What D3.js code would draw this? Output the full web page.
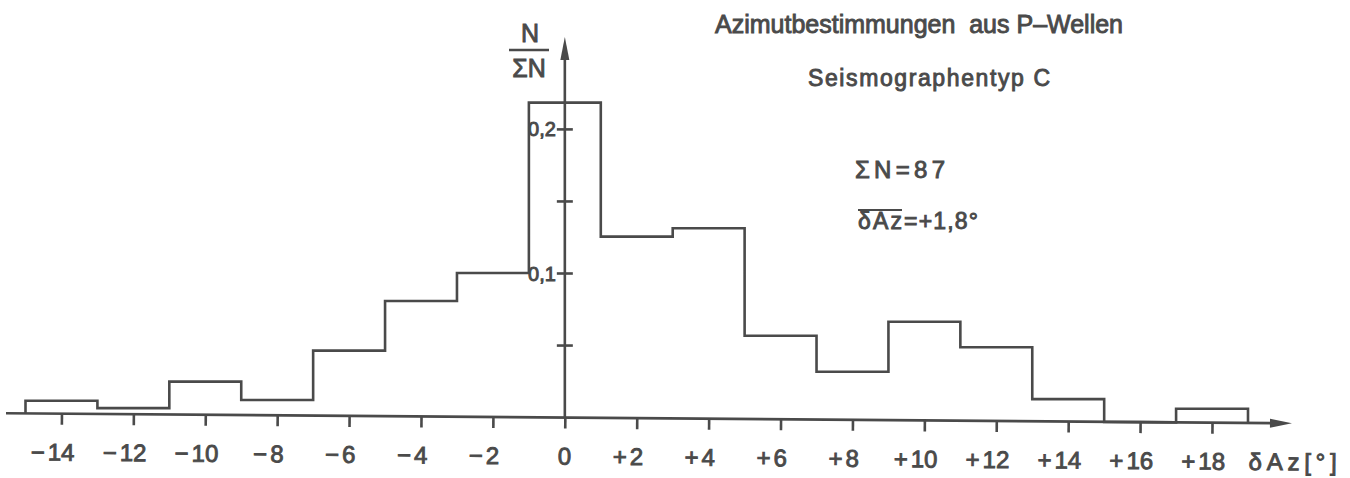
<!DOCTYPE html>
<html>
<head>
<meta charset="utf-8">
<script src="https://cdn.jsdelivr.net/npm/d3@7"></script>
<style>
  html, body { margin: 0; padding: 0; background: #fff; }
  svg { display: block; }
  text { font-family: "Liberation Sans", "DejaVu Sans", sans-serif; fill: #4a4a4a; stroke: #4a4a4a; stroke-width: 0.9px; white-space: pre; }
</style>
</head>
<body>
<svg id="chart" width="1350" height="478"></svg>
<script>
// Azimuth deviations, 2° classes (left edge of each class in degrees)
const binLeft = [-15, -13, -11, -9, -7, -5, -3, -1, 1, 3, 5, 7, 9, 11, 13, 15, 17];
const binWidth = 2;
// Relative frequency N / ΣN per class
const share = [0.0117, 0.0066, 0.0250, 0.0122, 0.0465, 0.0809, 0.1003, 0.2186,
               0.1256, 0.1314, 0.0568, 0.0318, 0.0665, 0.0488, 0.0128, 0, 0.0061];

const xTicks = [-14, -12, -10, -8, -6, -4, -2, 0, 2, 4, 6, 8, 10, 12, 14, 16, 18];
const yTicks = [0.05, 0.1, 0.15, 0.2];
const yTickText = new Map([[0.1, "0,1"], [0.2, "0,2"]]);

const titleText = "Azimutbestimmungen  aus P\u2013Wellen";
const subtitleText = "Seismographentyp C";
const sumText = "\u03a3N=87";
const meanSymbol = "\u03b4Az";
const meanValue = "=+1,8\u00b0";
const xLabel = "\u03b4Az[\u00b0]";

const ink = "#4a4a4a";
const lw = 2.6;

const svg = d3.select("#chart");
svg.append("rect").attr("width", 1350).attr("height", 478).attr("fill", "#fff");

const x = d3.scaleLinear().domain([-15, 19]).range([25.5, 1248]);
const y = d3.scaleLinear().domain([0, 0.2]).range([417.6, 129.4]);

// the abscissa is drawn with a slight downward tilt to the right
const tiltDeg = 0.45;
const tilt = tiltDeg * Math.PI / 180;
const x0 = x(0), y0 = y(0);
const base = xx => y0 + (xx - x0) * Math.tan(tilt);

// ---- x axis (tilted group) ----
const gx = svg.append("g").attr("transform", `rotate(${tiltDeg},${x0},${y0})`);
gx.append("line")
  .attr("x1", 6).attr("x2", 1278).attr("y1", y0).attr("y2", y0)
  .attr("stroke", ink).attr("stroke-width", lw);
gx.append("path")
  .attr("d", `M1292,${y0} L1270,${y0 - 4.5} L1270,${y0 + 4.5} Z`)
  .attr("fill", ink);

const axisG = gx.append("g").attr("transform", `translate(0,${y0})`)
  .call(d3.axisBottom(x).tickValues(xTicks).tickSize(11).tickFormat(""));
axisG.select(".domain").remove();
axisG.selectAll(".tick line").attr("stroke", ink).attr("stroke-width", lw);

const labelY = y0 + 47;
xTicks.forEach(v => {
  const digits = gx.append("text")
    .attr("x", x(v)).attr("y", labelY)
    .attr("text-anchor", "middle")
    .attr("font-size", 24)
    .text(String(Math.abs(v)));
  const w = digits.node().getComputedTextLength();
  const sign = v < 0 ? "\u2212" : (v > 0 ? "+" : "");
  if (sign) {
    gx.append("text")
      .attr("x", x(v) - w / 2 - 3).attr("y", labelY)
      .attr("text-anchor", "end")
      .attr("font-size", 24)
      .text(sign);
  }
});
gx.append("text")
  .attr("x", 1249).attr("y", labelY)
  .attr("font-size", 24)
  .attr("textLength", 88).attr("lengthAdjust", "spacing")
  .text(xLabel);

// ---- y axis ----
svg.append("line")
  .attr("x1", x0).attr("x2", x0).attr("y1", y0).attr("y2", 58)
  .attr("stroke", ink).attr("stroke-width", lw);
svg.append("path")
  .attr("d", `M${x0},37 L${x0 - 4.5},60 L${x0 + 4.5},60 Z`)
  .attr("fill", ink);

svg.selectAll(".ytick")
  .data(yTicks).join("line")
  .attr("class", "ytick")
  .attr("x1", x0 - 8).attr("x2", x0 + 8)
  .attr("y1", d => y(d)).attr("y2", d => y(d))
  .attr("stroke", ink).attr("stroke-width", lw);

svg.selectAll(".ylab")
  .data(yTicks.filter(d => yTickText.has(d))).join("text")
  .attr("class", "ylab")
  .attr("x", x0 - 9).attr("y", d => y(d) + 7)
  .attr("text-anchor", "end")
  .attr("font-size", 20)
  .text(d => yTickText.get(d));

// y-axis quantity N / ΣN
svg.append("text").attr("x", 530).attr("y", 42)
  .attr("text-anchor", "middle").attr("font-size", 25).text("N");
svg.append("line").attr("x1", 509).attr("x2", 549).attr("y1", 50).attr("y2", 50)
  .attr("stroke", ink).attr("stroke-width", lw);
svg.append("text").attr("x", 529).attr("y", 77)
  .attr("text-anchor", "middle").attr("font-size", 25).text("\u03a3N");

// ---- histogram outline ----
const pts = [[x(binLeft[0]), base(x(binLeft[0]))]];
binLeft.forEach((l, i) => {
  const xl = x(l), xr = x(l + binWidth);
  const v = share[i];
  pts.push([xl, v === 0 ? base(xl) : y(v)]);
  pts.push([xr, v === 0 ? base(xr) : y(v)]);
});
const lastX = x(binLeft[binLeft.length - 1] + binWidth);
pts.push([lastX, base(lastX)]);

svg.append("path")
  .attr("d", d3.line()(pts))
  .attr("fill", "none")
  .attr("stroke", ink)
  .attr("stroke-width", lw)
  .attr("stroke-linejoin", "miter");

// ---- annotations ----
svg.append("text").attr("x", 715).attr("y", 33)
  .attr("font-size", 25)
  .attr("textLength", 408).attr("lengthAdjust", "spacing")
  .text(titleText);
svg.append("text").attr("x", 808).attr("y", 86)
  .attr("font-size", 23)
  .attr("textLength", 242).attr("lengthAdjust", "spacing")
  .text(subtitleText);
svg.append("text").attr("x", 855).attr("y", 178)
  .attr("font-size", 24)
  .attr("textLength", 90).attr("lengthAdjust", "spacing")
  .text(sumText);

const meanG = svg.append("g");
meanG.append("text").attr("x", 858).attr("y", 229)
  .attr("font-size", 23)
  .attr("textLength", 44).attr("lengthAdjust", "spacing")
  .text(meanSymbol);
meanG.append("text").attr("x", 904).attr("y", 229)
  .attr("font-size", 23)
  .attr("textLength", 74).attr("lengthAdjust", "spacing")
  .text(meanValue);
meanG.append("line").attr("x1", 858).attr("x2", 902).attr("y1", 210).attr("y2", 210)
  .attr("stroke", ink).attr("stroke-width", 2.2);
</script>
</body>
</html>
